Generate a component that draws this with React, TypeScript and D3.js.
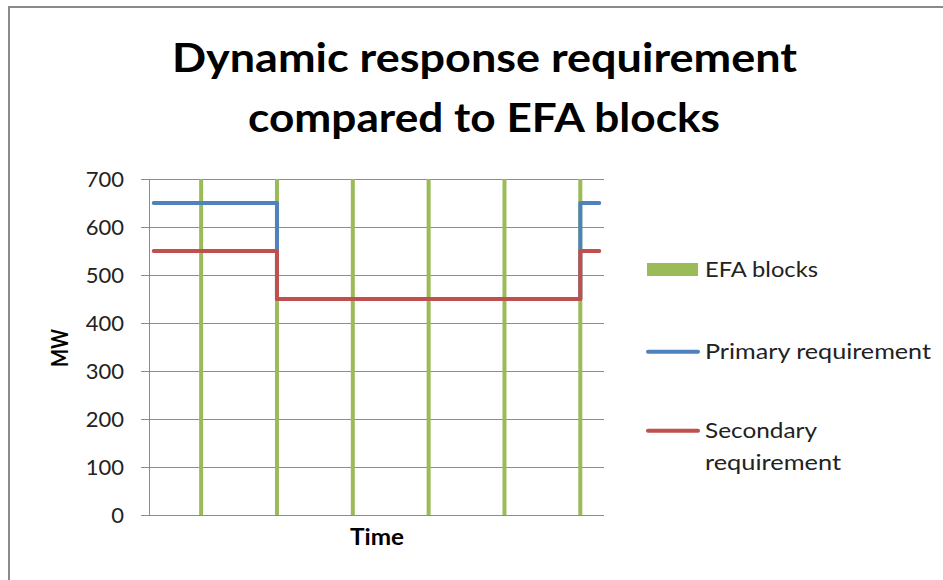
import React from "react";
import * as d3 from "d3";

// ---- data ----
const titleLines = ["Dynamic response requirement", "compared to EFA blocks"];
const yTicks = [0, 100, 200, 300, 400, 500, 600, 700];
const periodCount = 48; // half-hour settlement periods
const efaPeriods = [6, 14, 22, 30, 38, 46];
const efaValues = [700, 700, 700, 700, 700, 700];
const stepX = [1, 14, 14, 46, 46, 48];
const primaryY = [650, 650, 450, 450, 650, 650];
const secondaryY = [550, 550, 450, 450, 550, 550];
const legendItems = [
  { label: ["EFA blocks"], color: "#9BBB59", kind: "box" },
  { label: ["Primary requirement"], color: "#4F81BD", kind: "line" },
  { label: ["Secondary", "requirement"], color: "#C0504D", kind: "line" },
];
const legendLens = [[113], [226], [112, 136]];

const W = 943;
const H = 580;
const FONT = "Lato, 'Open Sans', sans-serif";

export default function App() {
  const plotLeft = 149;
  const plotRight = 604;
  const plotTop = 179;
  const plotBottom = 515;

  const x = d3.scaleLinear().domain([0.5, periodCount + 0.5]).range([plotLeft, plotRight]);
  const y = d3.scaleLinear().domain([0, 700]).range([plotBottom, plotTop]);

  const line = d3
    .line<number>()
    .x((_, i) => x(stepX[i]))
    .y((d) => y(d));

  const barW = 4;
  const legendY = [269.5, 351.7, 430.7];

  return (
    <svg
      width={W}
      height={H}
      style={{ position: "absolute", left: 0, top: 0, display: "block", background: "#fff" }}
    >
      <rect x={0} y={0} width={W} height={H} fill="#fff" />
      <rect x={9} y={7} width={W + 20} height={H + 20} fill="#fff" stroke="#8a8a8a" strokeWidth={2} />

      {/* title */}
      <text
        x={484.5}
        y={72}
        textAnchor="middle"
        fontFamily={FONT}
        fontWeight="bold"
        fontSize={40}
        fill="#000"
        textLength={625}
        lengthAdjust="spacingAndGlyphs"
      >
        {titleLines[0]}
      </text>
      <text
        x={484}
        y={132}
        textAnchor="middle"
        fontFamily={FONT}
        fontWeight="bold"
        fontSize={40}
        fill="#000"
        textLength={472}
        lengthAdjust="spacingAndGlyphs"
      >
        {titleLines[1]}
      </text>

      {/* gridlines + ticks */}
      {yTicks.map((t) => (
        <g key={t}>
          <line
            x1={plotLeft - 8}
            x2={plotRight}
            y1={Math.round(y(t)) + 0.5}
            y2={Math.round(y(t)) + 0.5}
            stroke="#8c8c8c"
            strokeWidth={1}
          />
          <text
            x={124}
            y={y(t)}
            dy="0.36em"
            textAnchor="end"
            fontFamily={FONT}
            fontSize={22}
            fill="#222"
          >
            {t}
          </text>
        </g>
      ))}
      <line x1={plotLeft + 0.5} x2={plotLeft + 0.5} y1={plotTop} y2={plotBottom} stroke="#8c8c8c" strokeWidth={1} />

      {/* EFA blocks columns */}
      {efaPeriods.map((p, i) => (
        <rect
          key={p}
          x={x(p) - barW / 2}
          y={y(efaValues[i])}
          width={barW}
          height={y(0) - y(efaValues[i])}
          fill="#9BBB59"
        />
      ))}

      {/* lines */}
      <path d={line(primaryY) || ""} fill="none" stroke="#4F81BD" strokeWidth={4} strokeLinejoin="round" strokeLinecap="round" />
      <path d={line(secondaryY) || ""} fill="none" stroke="#C0504D" strokeWidth={4} strokeLinejoin="round" strokeLinecap="round" />

      {/* axis titles */}
      <text
        transform={`translate(68,348) rotate(-90)`}
        textAnchor="middle"
        fontFamily={FONT}
        fontWeight="bold"
        fontSize={23}
        fill="#000"
        textLength={38}
        lengthAdjust="spacingAndGlyphs"
      >
        MW
      </text>
      <text
        x={377}
        y={545}
        textAnchor="middle"
        fontFamily={FONT}
        fontWeight="bold"
        fontSize={23}
        fill="#000"
        textLength={54}
        lengthAdjust="spacingAndGlyphs"
      >
        Time
      </text>

      {/* legend */}
      {legendItems.map((item, i) => (
        <g key={i}>
          {item.kind === "box" ? (
            <rect x={647} y={legendY[i] - 6.5} width={51} height={13} fill={item.color} />
          ) : (
            <line x1={648} x2={698} y1={legendY[i]} y2={legendY[i]} stroke={item.color} strokeWidth={4} strokeLinecap="round" />
          )}
          {item.label.map((l, j) => (
            <text
              key={j}
              x={705}
              y={legendY[i] + 7 + j * 32}
              fontFamily={FONT}
              fontSize={22}
              fill="#222"
              textLength={legendLens[i][j]}
              lengthAdjust="spacingAndGlyphs"
            >
              {l}
            </text>
          ))}
        </g>
      ))}
    </svg>
  );
}
